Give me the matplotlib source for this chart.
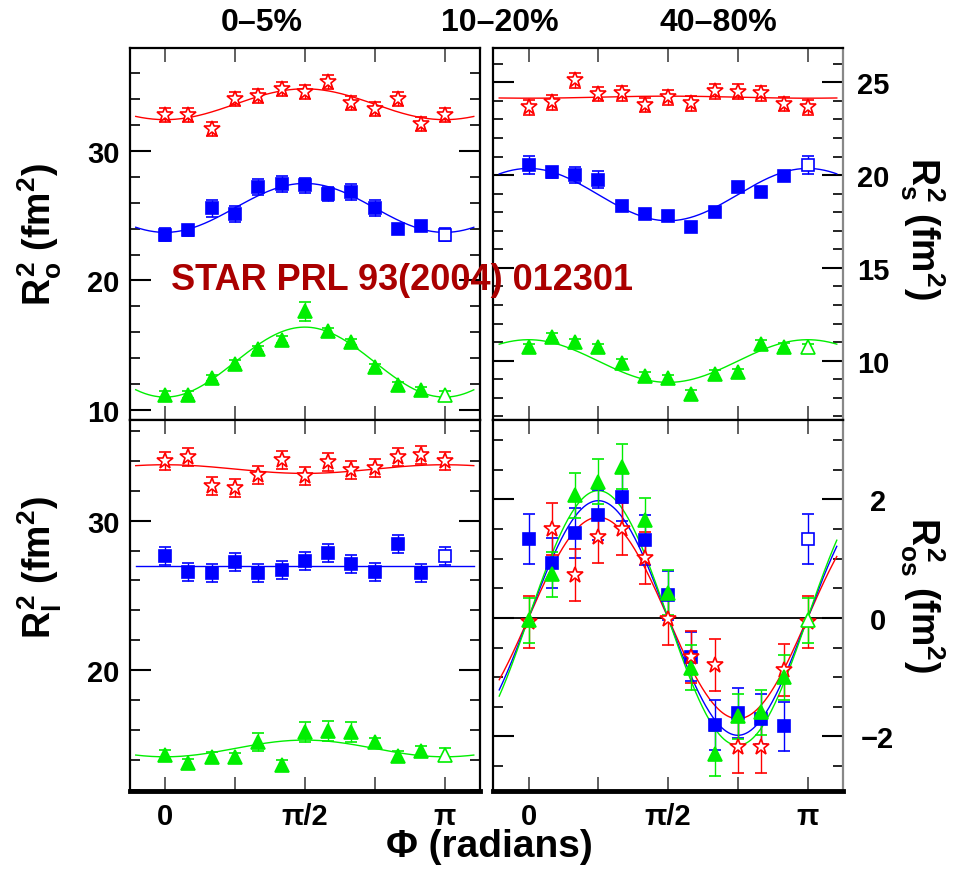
import numpy as np
import matplotlib.pyplot as plt
from matplotlib.ticker import MultipleLocator, FixedLocator

plt.rcParams["font.family"] = "Liberation Sans"
plt.rcParams["font.weight"] = "bold"
plt.rcParams["mathtext.fontset"] = "custom"
plt.rcParams["mathtext.rm"] = "Liberation Sans:bold"
plt.rcParams["mathtext.it"] = "Liberation Sans:bold"
plt.rcParams["mathtext.bf"] = "Liberation Sans:bold"

RED = "#ff0000"
BLUE = "#0000ff"
GREEN = "#00ee00"

# azimuthal bins, k*pi/12; the last point (pi) repeats the first one
phi = np.arange(13) * np.pi / 12

# R_o^2 vs phi
ro_red = [32.78, 32.78, 31.70, 34.00, 34.26, 34.78, 34.57, 35.34, 33.68, 33.24, 34.00, 32.08, 32.78]
ro_blue = [23.52, 23.86, 25.58, 25.14, 27.20, 27.46, 27.33, 26.68, 26.81, 25.58, 23.94, 24.17, 23.52]
ro_green = [11.19, 11.19, 12.47, 13.58, 14.73, 15.43, 17.61, 16.07, 15.25, 13.32, 11.90, 11.52, 11.19]
ro_red_err = [0.55] * 13
ro_blue_err = [0.5, 0.4, 0.65, 0.6, 0.6, 0.6, 0.6, 0.55, 0.6, 0.6, 0.3, 0.3, 0.5]
ro_green_err = [0.25, 0.25, 0.25, 0.25, 0.25, 0.25, 0.7, 0.25, 0.25, 0.25, 0.25, 0.25, 0.25]

# R_s^2 vs phi
rs_red = [23.65, 23.92, 25.12, 24.37, 24.41, 23.78, 24.19, 23.87, 24.52, 24.49, 24.41, 23.83, 23.65]
rs_blue = [20.54, 20.15, 20.00, 19.75, 18.35, 17.90, 17.78, 17.19, 18.00, 19.38, 19.07, 19.97, 20.54]
rs_green = [10.72, 11.29, 10.99, 10.72, 9.88, 9.19, 9.05, 8.20, 9.28, 9.37, 10.90, 10.75, 10.72]
rs_red_err = [0.4] * 13
rs_blue_err = [0.5, 0.3, 0.45, 0.45, 0.25, 0.25, 0.25, 0.25, 0.25, 0.25, 0.25, 0.25, 0.5]
rs_green_err = [0.2] * 13

# R_l^2 vs phi
rl_red = [34.02, 34.29, 32.34, 32.19, 33.06, 34.07, 33.01, 33.95, 33.40, 33.51, 34.24, 34.40, 34.02]
rl_blue = [27.66, 26.54, 26.48, 27.21, 26.48, 26.70, 27.32, 27.82, 27.10, 26.54, 28.44, 26.50, 27.66]
rl_green = [14.33, 13.75, 14.19, 14.15, 15.16, 13.66, 15.83, 15.89, 15.83, 15.16, 14.26, 14.60, 14.33]
rl_red_err = [0.6] * 13
rl_blue_err = [0.6] * 13
rl_green_err = [0.3, 0.3, 0.3, 0.3, 0.6, 0.3, 0.67, 0.67, 0.67, 0.3, 0.3, 0.3, 0.45]

# R_os^2 vs phi
ros_red = [-0.07, 1.50, 0.73, 1.37, 1.50, 1.01, -0.02, -0.66, -0.80, -2.18, -2.17, -0.88, -0.07]
ros_blue = [1.33, 0.93, 1.43, 1.74, 2.05, 1.32, 0.38, -0.65, -1.80, -1.61, -1.70, -1.83, 1.33]
ros_green = [-0.04, 0.74, 2.07, 2.30, 2.55, 1.65, 0.43, -0.84, -2.29, -1.66, -1.59, -1.00, -0.04]
ros_red_err = [0.44] * 13
ros_blue_err = [0.42] * 13
ros_green_err = [0.38] * 13

# fit parameters: R^2 = a0 + a2*cos(2 phi), R_os^2 = b2*sin(2 phi)
ro_fit = {"red": (33.6, -1.19), "blue": (25.6, -1.89), "green": (13.7, -2.7)}
rs_fit = {"red": (24.2, -0.055), "blue": (18.95, 1.41), "green": (9.98, 1.15)}
rl_fit = {"red": (33.46, 0.29), "blue": (26.99, 0.0), "green": (14.75, -0.56)}
ros_fit = {"red": 1.70, "blue": 1.98, "green": 2.15}

colors = {"red": RED, "blue": BLUE, "green": GREEN}
markers = {"red": ("*", 12), "blue": ("s", 8.5), "green": ("^", 9.5)}

phi_fit = np.linspace(-0.33, 3.47, 300)

W, H = 955, 870
fig = plt.figure(figsize=(W / 100, H / 100), dpi=100)


def px_axes(x0, y0, x1, y1):
    return fig.add_axes([x0 / W, 1 - y1 / H, (x1 - x0) / W, (y1 - y0) / H])


def draw_points(ax, y, err, name):
    c = colors[name]
    m, ms = markers[name]
    fill = "white" if name == "red" else c
    kw = dict(fmt=m, color=c, ms=ms, mec=c, mew=1.2, capsize=4,
              elinewidth=1.0, capthick=1.0, zorder=3)
    ax.errorbar(phi[:12], y[:12], yerr=err[:12], mfc=fill, **kw)
    ax.errorbar(phi[12:], y[12:], yerr=err[12:], mfc="white", **kw)


def style(ax, ylim, major, minor, side, xlabels):
    ax.set_xlim(-0.4, 3.54)
    ax.set_ylim(*ylim)
    ax.xaxis.set_major_locator(FixedLocator([0, np.pi / 4, np.pi / 2, 3 * np.pi / 4, np.pi]))
    ax.set_xticklabels(["0", "", "\u03c0/2", "", "\u03c0"])
    ax.yaxis.set_major_locator(FixedLocator(major))
    ax.yaxis.set_minor_locator(MultipleLocator(minor))
    ax.tick_params(axis="x", direction="in", top=True, bottom=True, length=10,
                   width=1.2, color="#444444", labelsize=21, pad=8,
                   labelbottom=xlabels)
    ax.tick_params(axis="y", which="major", direction="in", left=True, right=True,
                   length=15, width=1.5, labelsize=21, pad=7)
    ax.tick_params(axis="y", which="minor", direction="in", left=True, right=True,
                   length=7, width=1.2)
    if side == "right":
        ax.tick_params(axis="y", labelleft=False, labelright=True, pad=10)
    for s in ax.spines.values():
        s.set_linewidth(1.6)


def cos_fit(ax, params):
    for name, (a0, a2) in params.items():
        ax.plot(phi_fit, a0 + a2 * np.cos(2 * phi_fit), color=colors[name], lw=1.0, zorder=2)


ax_o = px_axes(129.5, 49, 480, 420.5)
ax_s = px_axes(493, 49, 843, 420.5)
ax_l = px_axes(129.5, 420.5, 480, 792)
ax_os = px_axes(493, 420.5, 843, 792)

cos_fit(ax_o, ro_fit)
draw_points(ax_o, ro_red, ro_red_err, "red")
draw_points(ax_o, ro_blue, ro_blue_err, "blue")
draw_points(ax_o, ro_green, ro_green_err, "green")
style(ax_o, (9.27, 37.94), [10, 20, 30], 2, "left", False)

cos_fit(ax_s, rs_fit)
draw_points(ax_s, rs_red, rs_red_err, "red")
draw_points(ax_s, rs_blue, rs_blue_err, "blue")
draw_points(ax_s, rs_green, rs_green_err, "green")
style(ax_s, (6.83, 26.85), [10, 15, 20, 25], 1, "right", False)

cos_fit(ax_l, rl_fit)
draw_points(ax_l, rl_red, rl_red_err, "red")
draw_points(ax_l, rl_blue, rl_blue_err, "blue")
draw_points(ax_l, rl_green, rl_green_err, "green")
style(ax_l, (11.9, 36.78), [20, 30], 2, "left", True)

ax_os.axhline(0, color="black", lw=1.3, zorder=1)
for name, b2 in ros_fit.items():
    ax_os.plot(phi_fit, b2 * np.sin(2 * phi_fit), color=colors[name], lw=1.0, zorder=2)
draw_points(ax_os, ros_blue, ros_blue_err, "blue")
draw_points(ax_os, ros_red, ros_red_err, "red")
draw_points(ax_os, ros_green, ros_green_err, "green")
style(ax_os, (-2.92, 3.35), [-2, 0, 2], 0.5, "right", True)
ax_os.set_yticklabels(["\u22122", "0", "2"])
ax_os.tick_params(axis="y", pad=25)
for t in ax_os.get_yticklabels():
    t.set_horizontalalignment("center")

for ax in (ax_l, ax_os):
    ax.spines["bottom"].set_linewidth(3.5)
for ax in (ax_s, ax_os):
    ax.spines["right"].set_color("#888888")

# axis titles
fig.text(40 / W, 1 - 235 / H, "$R_o^2$ (fm$^2$)", rotation=90, ha="center", va="center", fontsize=27)
fig.text(40 / W, 1 - 568 / H, "$R_l^2$ (fm$^2$)", rotation=90, ha="center", va="center", fontsize=27)
fig.text(922 / W, 1 - 228 / H, "$R_s^2$ (fm$^2$)", rotation=-90, ha="center", va="center", fontsize=27)
fig.text(922 / W, 1 - 595 / H, "$R_{os}^2$ (fm$^2$)", rotation=-90, ha="center", va="center", fontsize=27)
fig.text(489 / W, 1 - 847 / H, "\u03a6 (radians)", ha="center", va="center", fontsize=28)

# centrality headers
fig.text(262 / W, 1 - 23 / H, "0\u20135%", ha="center", va="center", fontsize=23)
fig.text(500 / W, 1 - 23 / H, "10\u201320%", ha="center", va="center", fontsize=23)
fig.text(718 / W, 1 - 23 / H, "40\u201380%", ha="center", va="center", fontsize=23)

fig.text(402 / W, 1 - 281 / H, "STAR PRL 93(2004) 012301", ha="center", va="center",
         fontsize=26, color="#aa0000", zorder=10)

fig.savefig("out.png", dpi=100)
